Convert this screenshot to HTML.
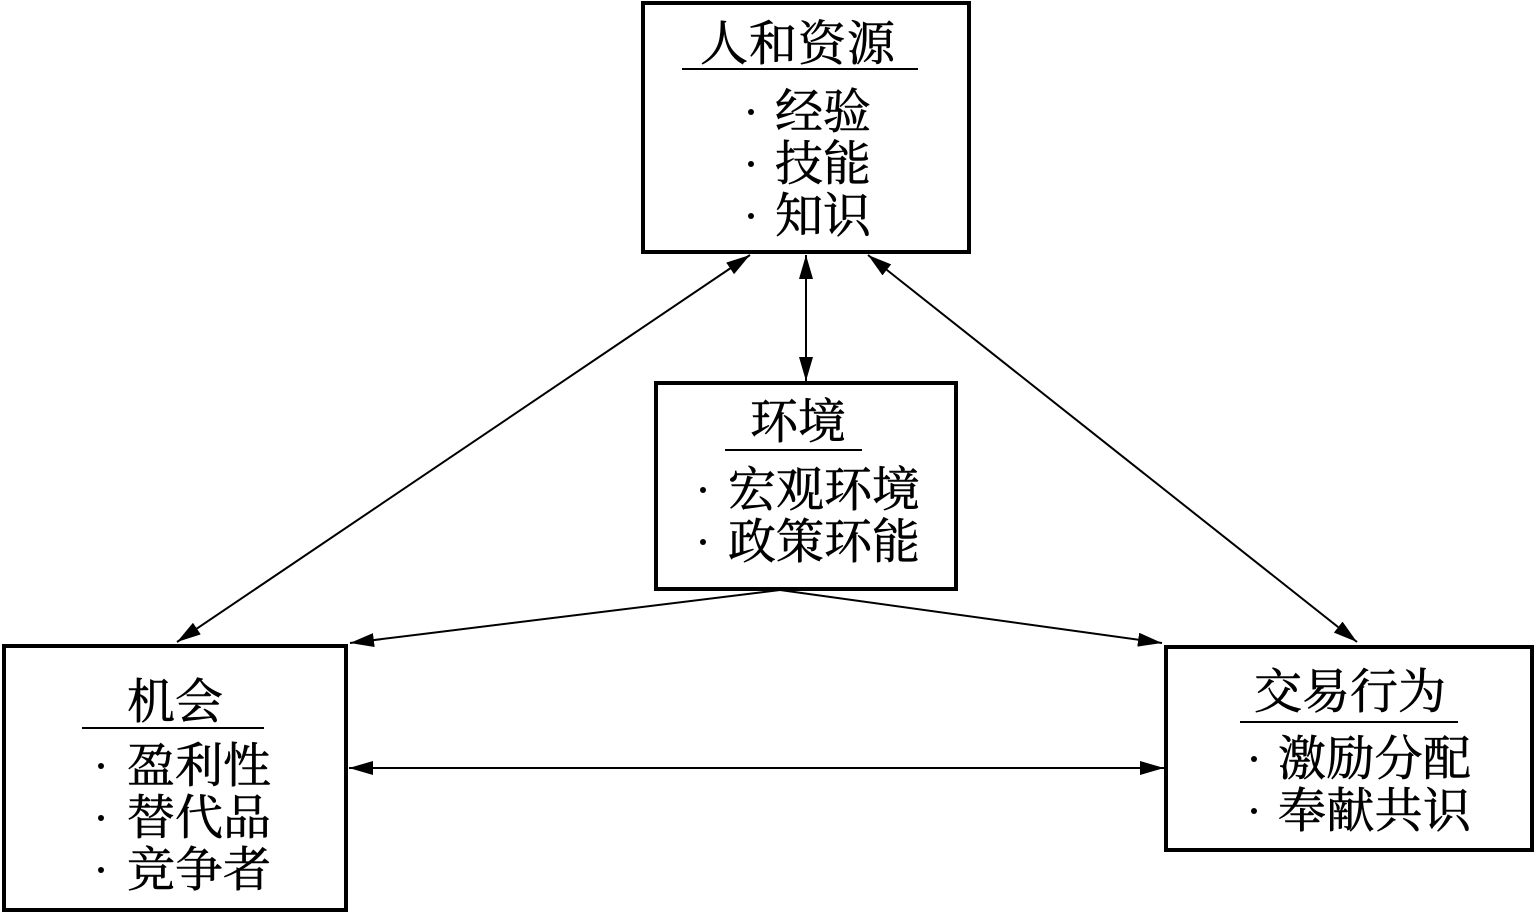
<!DOCTYPE html>
<html><head><meta charset="utf-8"><style>
html,body{margin:0;padding:0;background:#fff;}
svg{display:block;}
text{font-family:"Liberation Serif","Noto Serif CJK SC",serif;font-size:48px;fill:#000;stroke:#000;stroke-width:0.6;}
</style></head><body>
<svg width="1536" height="913" viewBox="0 0 1536 913" xmlns="http://www.w3.org/2000/svg">
<defs>
<marker id="a" viewBox="0 0 24 14" refX="24" refY="7" markerWidth="24" markerHeight="14" markerUnits="userSpaceOnUse" orient="auto-start-reverse">
<path d="M0,0 L24,7 L0,14 Z" fill="#000"/>
</marker>
</defs>
<g fill="none" stroke="#000" stroke-width="4">
<rect x="643" y="3" width="326" height="249"/>
<rect x="656" y="383" width="300" height="206"/>
<rect x="4" y="646" width="342" height="264"/>
<rect x="1166" y="647" width="366" height="203"/>
</g>
<g stroke="#000" stroke-width="2" fill="none" marker-start="url(#a)" marker-end="url(#a)">
<line x1="750" y1="255" x2="177" y2="642"/>
<line x1="806" y1="255" x2="806" y2="381"/>
<line x1="868" y1="255" x2="1357" y2="642"/>
<line x1="349" y1="768" x2="1164" y2="768"/>
</g>
<g stroke="#000" stroke-width="2" fill="none">
<line x1="780" y1="590" x2="350" y2="643" marker-end="url(#a)"/>
<line x1="780" y1="590" x2="1162" y2="643" marker-end="url(#a)"/>
</g>
<g stroke="#000" stroke-width="2">
<line x1="682" y1="69" x2="918" y2="69"/>
<line x1="725" y1="450" x2="862" y2="450"/>
<line x1="82" y1="728" x2="264" y2="728"/>
<line x1="1240" y1="722" x2="1458" y2="722"/>
</g>
<g fill="#000">
<circle cx="751" cy="112" r="3"/><circle cx="751" cy="164" r="3"/><circle cx="751" cy="216" r="3"/>
<circle cx="703" cy="490" r="3"/><circle cx="703" cy="542" r="3"/>
<circle cx="101" cy="766" r="3"/><circle cx="101" cy="818" r="3"/><circle cx="101" cy="870" r="3"/>
<circle cx="1254" cy="759" r="3"/><circle cx="1254" cy="811" r="3"/>
</g>
<text x="700" y="60" textLength="195">人和资源</text>
<text x="775" y="128" textLength="96">经验</text>
<text x="775" y="180" textLength="96">技能</text>
<text x="775" y="232" textLength="96">知识</text>
<text x="750" y="438" textLength="96">环境</text>
<text x="728" y="506" textLength="192">宏观环境</text>
<text x="728" y="558" textLength="192">政策环能</text>
<text x="127" y="718" textLength="96">机会</text>
<text x="127" y="782" textLength="144">盈利性</text>
<text x="127" y="834" textLength="144">替代品</text>
<text x="127" y="886" textLength="144">竞争者</text>
<text x="1254" y="708" textLength="192">交易行为</text>
<text x="1278" y="775" textLength="193">激励分配</text>
<text x="1278" y="827" textLength="193">奉献共识</text>
</svg>
</body></html>
